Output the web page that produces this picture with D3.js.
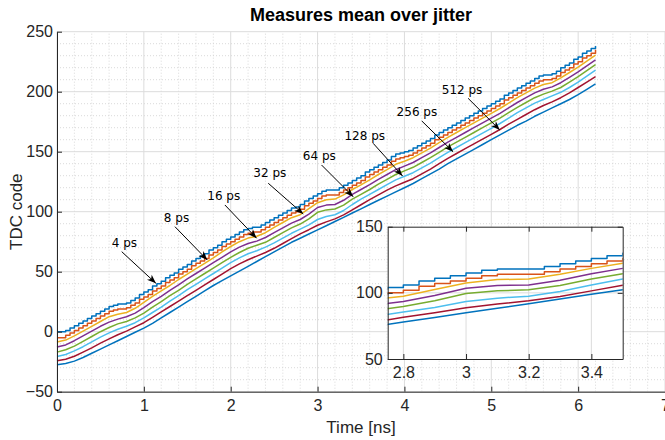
<!DOCTYPE html>
<meta charset="utf-8">
<script src="https://cdn.jsdelivr.net/npm/d3@7"></script>
<style>
	body{margin:0;background:#fff;}
	svg{font-family:'Liberation Sans',Arial,sans-serif;}
</style>
<div id="chart"></div>
<script>

// sample times [ns]
var timeFine = [0,0.05,0.1,0.15,0.2,0.25,0.3,0.35,0.4,0.45,0.5,0.55,0.6,0.65,0.7,0.75,0.8,0.85,0.9,0.95,
	1,1.05,1.1,1.15,1.2,1.25,1.3,1.35,1.4,1.45,1.5,1.55,1.6,1.65,1.7,1.75,1.8,1.85,1.9,1.95,
	2,2.05,2.1,2.15,2.2,2.25,2.3,2.35,2.4,2.45,2.5,2.55,2.6,2.65,2.7,2.75,2.8,2.85,2.9,2.95,
	3,3.05,3.1,3.15,3.2,3.25,3.3,3.35,3.4,3.45,3.5,3.55,3.6,3.65,3.7,3.75,3.8,3.85,3.9,3.95,
	4,4.05,4.1,4.15,4.2,4.25,4.3,4.35,4.4,4.45,4.5,4.55,4.6,4.65,4.7,4.75,4.8,4.85,4.9,4.95,
	5,5.05,5.1,5.15,5.2,5.25,5.3,5.35,5.4,5.45,5.5,5.55,5.6,5.65,5.7,5.75,5.8,5.85,5.9,5.95,
	6,6.05,6.1,6.15,6.2]
var timeCoarse = [0,0.1,0.2,0.3,0.4,0.5,0.6,0.7,0.8,0.9,1,1.1,1.2,1.3,1.4,1.5,1.6,1.7,1.8,1.9,
	2,2.1,2.2,2.3,2.4,2.5,2.6,2.7,2.8,2.9,3,3.1,3.2,3.3,3.4,3.5,3.6,3.7,3.8,3.9,
	4,4.1,4.2,4.3,4.4,4.5,4.6,4.7,4.8,4.9,5,5.1,5.2,5.3,5.4,5.5,5.6,5.7,5.8,5.9,6,6.1,6.2]

// mean TDC code for each jitter value
var code4ps = [0,0,1,3,5,7,9,11,13,15, 17,19,21,22,23,23,24,26,28,31, 33,35,38,40,42,45,47,49,52,54,
	56,59,61,63,65,68,70,72,75,77, 79,81,83,85,86,87,87,89,91,93, 95,97,99,101,103,104,106,109,111,113,
	115,117,118,118,118,120,122,124,126,128, 130,133,135,137,139,141,143,146,148,149,
	150,151,153,155,157,159,161,164,166,168, 170,172,174,176,178,180,182,184,186,188,
	190,192,194,197,199,201,203,205,207,209, 211,213,214,214,215,217,220,222,224,227, 229,232,234,236,238]
var code8ps = [-5,-5,-3,-1,1,3,5,7,9,11, 13,15,17,18,19,19,20,22,24,27, 29,31,34,36,38,41,43,45,48,50,
	52,55,57,59,61,64,66,68,71,73, 75,77,79,81,82,83,83,85,87,89, 91,93,95,97,99,100,102,105,107,109,
	111,113,114,114,114,116,118,120,122,124, 126,129,131,133,135,137,139,142,144,145,
	146,147,149,151,153,155,157,160,162,164, 166,168,170,172,174,176,178,180,182,184,
	186,188,190,193,195,197,199,201,203,205, 207,209,210,210,211,213,216,218,220,223, 225,228,230,232,235]
var code16ps = [-8.5,-7,-3.5,0.5,4.5,8.5,12.5,14.5,16,19.5, 24.5,29.5,34,38.5,43.5,48,52.5,57,61.5,66.5,
	71,75,78,79.5,82.5,87,91,95,97.5,102.5, 107.5,110,110.5,114,118.5,122.3,126.5,131,135,139.5,
	142,145,149,153,157.5,162,166,170,174,178, 182,186,190.5,195,199,203,206,207.5,211.5,216, 220.5,225.5,230.5]
var code32ps = [-12.8,-11,-7.5,-3.5,0.5,4.5,8,10.5,12.5,15.5, 20,25,29.5,34.5,39,44,48.5,53,57.5,62,
	66.5,70.5,73.5,75.5,78.5,82.5,86.5,90.5,93.5,98, 103.5,105.5,106,109.5,114.5,118.5,122.5,127,131,135,
	138,141,145,149,153.5,158,162,166,170,174, 178,182,186.5,191,195,199,202,204,207.5,212, 216.5,221.5,226.5]
var code64ps = [-17,-15,-12,-8,-4,0,3.5,6.5,8.5,11.5, 15.5,20.5,25,30,34.5,39.5,44,48.5,53,57.5,
	62,66,69.5,72,74.5,78.5,82.5,86.5,89.7,94, 99.5,101.5,102.3,105.5,110.5,114.5,118.5,123,127,131,
	134,137,141,145,149.5,154,158,162,166,170, 174,178,182.5,187,191,195,198,200.5,203.5,208, 212.5,217.5,222.5]
var code128ps = [-20.6,-19,-16,-12.5,-8.5,-4.5,-1,2,4.5,7.5, 11.5,16,20.5,25.5,30,35,39.5,44,48.5,53,
	57.5,61.5,65,67.5,70.5,74,78,82,85.5,89, 93.5,96,97.5,101,106,110.5,114.5,118.5,122.5,126.5,
	129.5,132.5,136.5,140.5,145,149.5,153.5,157.5,161.5,165.5, 169.5,173.5,178,182.5,186.5,190.5,193.5,196.5,199.5,203.5, 208,213,218]
var code256ps = [-24.2,-23,-20.5,-17,-13.5,-9.5,-6,-2.5,0.5,4, 7.5,12,16.5,21,25.5,30,34.5,39,43.5,48,
	52.5,56.5,60,63,66,69.5,73.5,77.5,81.5,85, 88.7,91.5,94,97.3,101.5,105.8,110,114,118,121.5,
	124.5,127.5,131.5,135.5,140,144.5,148.5,152.5,156.5,160.5, 164.5,168.5,173,177,181,185,188.5,191.5,195,199, 203.5,208,212.5]
var code512ps = [-27.6,-26.5,-24.5,-21.5,-18,-14.5,-11,-7.5,-4,-0.5, 3,7,11.5,16,20.5,25,29.5,34,38.5,42.5,
	46.5,50.5,54.5,58.5,62.5,66.5,70.5,74.5,77.9,81.4, 84.9,88.3,91.8,95.3,98.9,102.4,106,109.5,113,116.5,
	120,123.5,127.5,131.5,135.5,140,144,148,152,156, 160,164,168,172,175.5,179.5,183,186.5,190,193.5, 197.5,202,206.5]

var jitterLabels = ["4 ps","8 ps","16 ps","32 ps","64 ps","128 ps","256 ps","512 ps"]
var seriesTimes = [timeFine,timeFine,timeCoarse,timeCoarse,timeCoarse,timeCoarse,timeCoarse,timeCoarse]
var seriesCodes = [code4ps,code8ps,code16ps,code32ps,code64ps,code128ps,code256ps,code512ps]
var colors = ["#0072BD","#D95319","#EDB120","#7E2F8E","#77AC30","#4DBEEE","#A2142F","#0072BD"]

// annotation anchors in data units [ns, code]
var labelAt = [[0.63,70.6],[1.23,91.4],[1.73,109.8],[2.26,128.8],[2.83,142.8],[3.31,159.4],[3.91,179.8],[4.43,197.9]]
var arrowFrom = [[0.745,66.7],[1.358,87.5],[1.933,105.6],[2.432,123.7],[3.046,138.9],[3.64,157],[4.2,175.6],[4.733,194.5]]
var arrowTo = [[1.139,40.3],[1.73,59.8],[2.298,77.9],[2.835,98.1],[3.41,112.5],[3.978,129.8],[4.56,150],[5.098,168.1]]

var xTicks = [0,1,2,3,4,5,6,7]
var yTicks = [-50,0,50,100,150,200,250]
var insetXTicks = [2.8,3,3.2,3.4]
var insetYTicks = [50,100,150]

var w = 665, h = 440
var axisColor = "#262626"
var svg = d3.select("#chart").append("svg").attr("width",w).attr("height",h)

var x = d3.scaleLinear().domain([0,7]).range([57,665])
var y = d3.scaleLinear().domain([-50,250]).range([391.7,31.7])

// minor grid
var gMinor = svg.append("g").attr("stroke","#cfcfcf").attr("stroke-dasharray","1,2").attr("stroke-width",0.8)
d3.range(0,7.001,0.2).forEach(function(v){
	if(Math.abs(v-Math.round(v))<1e-6) return
	gMinor.append("line").attr("x1",x(v)).attr("x2",x(v)).attr("y1",y(-50)).attr("y2",y(250))
})
d3.range(-50,250.1,10).forEach(function(v){
	if(v%50==0) return
	gMinor.append("line").attr("y1",y(v)).attr("y2",y(v)).attr("x1",x(0)).attr("x2",x(7))
})
// major grid
var gMajor = svg.append("g").attr("stroke","#dcdcdc").attr("stroke-width",1)
xTicks.forEach(function(v){
	gMajor.append("line").attr("x1",x(v)).attr("x2",x(v)).attr("y1",y(-50)).attr("y2",y(250))
})
yTicks.forEach(function(v){
	gMajor.append("line").attr("y1",y(v)).attr("y2",y(v)).attr("x1",x(0)).attr("x2",x(7))
})

function drawSeries(g, xs, ys){
	seriesCodes.forEach(function(codes,i){
		var pts = d3.zip(seriesTimes[i],codes)
		var line = d3.line()
			.x(function(d){return xs(d[0])})
			.y(function(d){return ys(d[1])})
			.curve(i<2 ? d3.curveStepAfter : d3.curveLinear)
		g.append("path").datum(pts)
			.attr("d",line)
			.attr("fill","none")
			.attr("stroke",colors[i])
			.attr("stroke-width",1.5)
			.attr("stroke-linejoin","round")
	})
}
drawSeries(svg.append("g"), x, y)

// axes
function styleAxis(g){
	g.select(".domain").attr("stroke",axisColor)
	g.selectAll(".tick line").attr("stroke",axisColor)
	g.selectAll(".tick text").attr("fill",axisColor).style("font-size","16px").style("font-family","'Liberation Sans',Arial,sans-serif")
}
var gx = svg.append("g").attr("transform","translate(0,"+y(-50)+")")
	.call(d3.axisBottom(x).tickValues(xTicks).tickFormat(d3.format("d")).tickSizeInner(-5).tickSizeOuter(0).tickPadding(8))
styleAxis(gx)
var gy = svg.append("g").attr("transform","translate("+x(0)+",0)")
	.call(d3.axisLeft(y).tickValues(yTicks).tickFormat(d3.format("d")).tickSizeInner(-5).tickSizeOuter(0).tickPadding(4))
styleAxis(gy)

svg.append("text").text("Measures mean over jitter")
	.attr("x",(x(0)+x(7))/2).attr("y",21).attr("text-anchor","middle")
	.style("font-weight","bold").style("font-size","18px").attr("fill","#000")
svg.append("text").text("Time [ns]")
	.attr("x",(x(0)+x(7))/2).attr("y",433).attr("text-anchor","middle")
	.style("font-size","17px").attr("fill",axisColor)
svg.append("text").text("TDC code")
	.attr("transform","translate(22,"+((y(-50)+y(250))/2)+") rotate(-90)").attr("text-anchor","middle")
	.style("font-size","17px").attr("fill",axisColor)

// arrows
svg.append("defs").append("marker").attr("id","head")
	.attr("viewBox","-10 -5 12 10").attr("refX",0).attr("refY",0)
	.attr("markerWidth",12).attr("markerHeight",10).attr("markerUnits","userSpaceOnUse")
	.attr("orient","auto")
	.append("path").attr("d","M0,0 L-9,-3.5 L-6.5,0 L-9,3.5 Z").attr("fill","#000")

var gAnn = svg.append("g")
jitterLabels.forEach(function(lab,i){
	gAnn.append("line")
		.attr("x1",x(arrowFrom[i][0])).attr("y1",y(arrowFrom[i][1]))
		.attr("x2",x(arrowTo[i][0])).attr("y2",y(arrowTo[i][1]))
		.attr("stroke","#000").attr("stroke-width",1).attr("marker-end","url(#head)")
	gAnn.append("text").text(lab)
		.attr("x",x(labelAt[i][0])).attr("y",y(labelAt[i][1]))
		.style("font-family","'DejaVu Sans',sans-serif").style("font-size","12px").attr("fill","#000")
})

// inset zoom
var xi = d3.scaleLinear().domain([2.75,3.5]).range([387.7,622.7])
var yi = d3.scaleLinear().domain([50,150]).range([359,226.7])
var inset = svg.append("g")
inset.append("rect").attr("x",xi(2.75)).attr("y",yi(150))
	.attr("width",xi(3.5)-xi(2.75)).attr("height",yi(50)-yi(150)).attr("fill","#fff")
svg.append("clipPath").attr("id","insetClip").append("rect")
	.attr("x",xi(2.75)).attr("y",yi(150)).attr("width",xi(3.5)-xi(2.75)).attr("height",yi(50)-yi(150))
insetXTicks.forEach(function(v){
	inset.append("line").attr("x1",xi(v)).attr("x2",xi(v)).attr("y1",yi(50)).attr("y2",yi(150)).attr("stroke","#dcdcdc")
})
inset.append("line").attr("x1",xi(2.75)).attr("x2",xi(3.5)).attr("y1",yi(100)).attr("y2",yi(100)).attr("stroke","#dcdcdc")
drawSeries(inset.append("g").attr("clip-path","url(#insetClip)"), xi, yi)

var gxi = inset.append("g").attr("transform","translate(0,"+yi(50)+")")
	.call(d3.axisBottom(xi).tickValues(insetXTicks).tickFormat(function(d){return d==3?"3":d3.format(".1f")(d)}).tickSizeInner(-5).tickSizeOuter(0).tickPadding(8))
styleAxis(gxi)
var gyi = inset.append("g").attr("transform","translate("+xi(2.75)+",0)")
	.call(d3.axisLeft(yi).tickValues(insetYTicks).tickSizeInner(-5).tickSizeOuter(0).tickPadding(5))
styleAxis(gyi)
var gxt = inset.append("g").attr("transform","translate(0,"+yi(150)+")")
	.call(d3.axisTop(xi).tickValues(insetXTicks).tickFormat("").tickSizeInner(-5).tickSizeOuter(0))
styleAxis(gxt)
var gyr = inset.append("g").attr("transform","translate("+xi(3.5)+",0)")
	.call(d3.axisRight(yi).tickValues(insetYTicks).tickFormat("").tickSizeInner(-5).tickSizeOuter(0))
styleAxis(gyr)

</script>
